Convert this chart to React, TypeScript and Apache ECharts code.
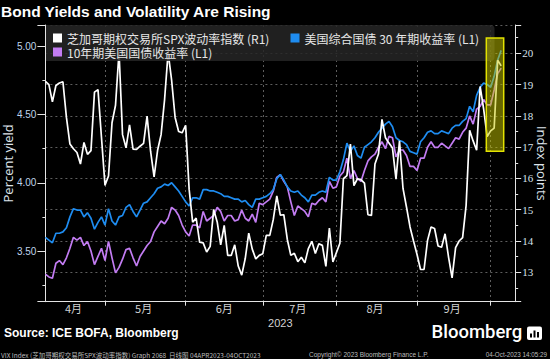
import React, { useEffect, useRef } from 'react';
import * as echarts from 'echarts';

const TITLE = 'Bond Yields and Volatility Are Rising';
const SOURCE = 'Source: ICE BOFA, Bloomberg';
const BRAND = 'Bloomberg';
const FOOT_LEFT = 'VIX Index (芝加哥期权交易所SPX波动率指数) Graph 2068  日线图 04APR2023-04OCT2023';
const FOOT_MID = 'Copyright© 2023 Bloomberg Finance L.P.';
const FOOT_RIGHT = '04-Oct-2023 14:05:29';
const X_NAME = '2023';
const LEFT_NAME = 'Percent yield';
const RIGHT_NAME = 'Index points';

// Weekday calendar (Bloomberg fills holidays), first point 5 Apr 2023, last point 4 Oct 2023
const START_DATE = '2023-04-05';
const CATEGORY_COUNT = 135; // 131 points + empty space at the right

const SERIES_NAMES = [
  '芝加哥期权交易所SPX波动率指数 (R1)',
  '美国综合国债 30 年期收益率 (L1)',
  '10年期美国国债收益率 (L1)',
];
const SERIES_COLORS = ['#ffffff', '#1e8cf0', '#c27cf2'];

// VIX, index points (right axis)
const vix = [
  19.10, 19.00, 18.45, 18.97, 19.05, 19.09, 17.95, 17.10, 16.95, 16.83,
  16.46, 17.15, 16.77, 16.89, 18.76, 18.84, 17.30, 15.78, 16.08, 17.78,
  18.34, 20.05, 17.40, 16.98, 17.71, 16.94, 16.93, 17.03, 17.12, 17.99,
  16.87, 16.05, 16.90, 17.40, 18.53, 20.03, 19.14, 17.95, 17.50, 17.46,
  17.70, 15.65, 14.60, 14.73, 13.96, 13.94, 13.65, 13.83, 15.01, 14.61,
  13.88, 14.50, 13.54, 13.54, 13.88, 13.20, 12.91, 13.44, 14.25, 13.74,
  13.43, 13.54, 13.59, 14.18, 14.18, 14.69, 15.44, 14.83, 14.84, 14.05,
  13.54, 13.61, 13.34, 13.48, 13.30, 13.76, 13.99, 13.60, 13.91, 13.86,
  13.19, 14.41, 13.33, 13.63, 13.93, 15.99, 16.09, 17.10, 15.77, 15.99,
  15.96, 15.85, 14.84, 14.82, 16.46, 16.78, 17.89, 17.30, 17.13, 16.97,
  15.98, 17.20, 15.68, 15.08, 14.45, 14.00, 13.57, 13.09, 13.09, 14.02,
  14.45, 14.40, 13.84, 13.80, 14.23, 13.48, 12.82, 13.79, 14.00, 14.11,
  15.14, 17.54, 17.20, 16.90, 18.94, 18.22, 17.34, 17.52, 17.61, 19.78, 19.60,
];

// 30-year yield, percent (left axis)
const ust30 = [
  3.60, 3.58, 3.56, 3.63, 3.63, 3.64, 3.67, 3.75, 3.81, 3.80,
  3.80, 3.75, 3.78, 3.74, 3.66, 3.71, 3.75, 3.69, 3.81, 3.72,
  3.69, 3.75, 3.76, 3.82, 3.84, 3.79, 3.75, 3.80, 3.85, 3.86,
  3.89, 3.92, 3.96, 3.97, 3.99, 3.98, 4.00, 3.97, 3.94, 3.90,
  3.86, 3.83, 3.89, 3.89, 3.88, 3.95, 3.95, 3.94, 3.94, 3.93,
  3.92, 3.90, 3.90, 3.89, 3.88, 3.88, 3.86, 3.87, 3.84, 3.82,
  3.88, 3.88, 3.89, 3.90, 3.92, 3.95, 4.03, 4.06, 4.02, 3.97,
  3.94, 3.93, 3.94, 3.91, 3.89, 3.86, 3.91, 3.91, 3.93, 3.94,
  3.93, 4.04, 4.02, 4.02, 4.08, 4.17, 4.29, 4.23, 4.27, 4.20,
  4.18, 4.26, 4.28, 4.30, 4.33, 4.37, 4.40, 4.43, 4.45, 4.41,
  4.33, 4.31, 4.30, 4.28, 4.23, 4.22, 4.21, 4.30, 4.33, 4.37,
  4.38, 4.36, 4.36, 4.38, 4.37, 4.36, 4.40, 4.42, 4.42, 4.45,
  4.47, 4.56, 4.52, 4.64, 4.70, 4.73, 4.72, 4.70, 4.78, 4.90, 4.97,
];

// 10-year yield, percent (left axis)
const ust10 = [
  3.33, 3.31, 3.30, 3.41, 3.43, 3.40, 3.45, 3.52, 3.60, 3.58,
  3.60, 3.54, 3.57, 3.50, 3.40, 3.46, 3.52, 3.43, 3.57, 3.45,
  3.34, 3.38, 3.44, 3.51, 3.52, 3.45, 3.39, 3.46, 3.50, 3.54,
  3.57, 3.64, 3.68, 3.72, 3.70, 3.74, 3.82, 3.80, 3.76, 3.69,
  3.64, 3.61, 3.69, 3.69, 3.67, 3.79, 3.72, 3.74, 3.76, 3.82,
  3.79, 3.72, 3.76, 3.76, 3.72, 3.73, 3.80, 3.74, 3.72, 3.77,
  3.71, 3.85, 3.84, 3.86, 3.88, 3.94, 4.04, 4.06, 4.01, 3.97,
  3.86, 3.76, 3.83, 3.81, 3.79, 3.75, 3.85, 3.84, 3.87, 3.89,
  3.86, 4.01, 3.96, 3.97, 4.05, 4.08, 4.18, 4.03, 4.09, 4.03,
  4.01, 4.09, 4.16, 4.19, 4.21, 4.26, 4.30, 4.25, 4.34, 4.33,
  4.19, 4.24, 4.24, 4.20, 4.12, 4.12, 4.09, 4.18, 4.18, 4.26,
  4.30, 4.26, 4.26, 4.29, 4.27, 4.25, 4.29, 4.33, 4.32, 4.37,
  4.40, 4.49, 4.43, 4.54, 4.56, 4.61, 4.57, 4.57, 4.68, 4.80, 4.84,
];

const LEFT_RANGE = [3.1285, 5.156];
const RIGHT_RANGE = [12.06, 20.905];
// highlight box: category positions (index) and right-axis values
const HIGHLIGHT = { from: 125.76, to: 130.72, top: 20.49, bottom: 16.87 };

function weekdays(start: string, n: number): string[] {
  const out: string[] = [];
  const d = new Date(start + 'T00:00:00Z');
  while (out.length < n) {
    const wd = d.getUTCDay();
    if (wd !== 0 && wd !== 6) out.push(d.toISOString().slice(0, 10));
    d.setUTCDate(d.getUTCDate() + 1);
  }
  return out;
}

const categories = weekdays(START_DATE, CATEGORY_COUNT);
const dataLen = vix.length;
const monthOf = (s: string) => parseInt(s.slice(5, 7), 10);
const monthEnds: number[] = [];
for (let i = 0; i < dataLen - 1; i++) {
  if (monthOf(categories[i]) !== monthOf(categories[i + 1])) monthEnds.push(i);
}
const monthEndSet = new Set(monthEnds);
const bounds = [0, ...monthEnds];
const labelMap = new Map<number, string>();
for (let k = 0; k < monthEnds.length; k++) {
  const idx = Math.floor((bounds[k] + bounds[k + 1]) / 2);
  labelMap.set(idx, monthOf(categories[idx]) + '月');
}

const AXIS_COLOR = '#e4e4e4';
const GRID_COLOR = '#5e5e5e';
const CJK = '"Noto Sans CJK SC", "Noto Sans", sans-serif';

function buildOption(): any {
  const legendCommon = {
    orient: 'horizontal',
    padding: 0,
    itemWidth: 9,
    itemHeight: 9,
    icon: 'rect',
    itemGap: 0,
    selectedMode: false,
    z: 5,
    textStyle: { color: '#e6e6e6', fontSize: 12, fontFamily: CJK, lineHeight: 12 },
  };
  const legendItem = (i: number) => ({
    name: SERIES_NAMES[i],
    itemStyle: { color: SERIES_COLORS[i], borderWidth: 0 },
  });
  const lineSeries = (i: number, data: number[], yAxisIndex: number) => ({
    type: 'line',
    name: SERIES_NAMES[i],
    data,
    yAxisIndex,
    showSymbol: false,
    symbol: 'none',
    silent: true,
    z: 2,
    lineStyle: { color: SERIES_COLORS[i], width: 1.7 },
    itemStyle: { color: SERIES_COLORS[i] },
  });

  return {
    animation: false,
    backgroundColor: '#000000',
    title: {
      text: TITLE,
      left: 1,
      top: 3.5,
      padding: 0,
      textStyle: {
        color: '#ffffff',
        fontSize: 15.5,
        lineHeight: 15.5,
        fontWeight: 'bold',
        fontFamily: '"Liberation Sans", Arial, sans-serif',
      },
    },
    legend: [
      { ...legendCommon, left: 53, top: 32, data: [legendItem(0)] },
      { ...legendCommon, left: 290.5, top: 32, data: [legendItem(1)] },
      { ...legendCommon, left: 53, top: 46, data: [legendItem(2)] },
    ],
    grid: { left: 45.4, top: 25, width: 469.8, height: 276.7, outerBoundsMode: 'none' },
    xAxis: {
      type: 'category',
      data: categories,
      boundaryGap: false,
      axisLine: { lineStyle: { color: AXIS_COLOR, width: 1 } },
      axisTick: {
        show: true,
        interval: (i: number) => monthEndSet.has(i),
        length: 4,
        lineStyle: { color: AXIS_COLOR },
      },
      axisLabel: {
        interval: (i: number) => labelMap.has(i),
        formatter: (_v: string, i: number) => labelMap.get(i) ?? '',
        color: '#d2d2d2',
        fontSize: 11,
        fontFamily: CJK,
        margin: 1,
      },
      splitLine: {
        show: true,
        interval: (i: number) => monthEndSet.has(i),
        lineStyle: { color: GRID_COLOR, type: [2, 3], width: 1 },
      },
      name: X_NAME,
      nameLocation: 'middle',
      nameGap: 15.5,
      nameMoveOverlap: false,
      nameTextStyle: { color: '#d2d2d2', fontSize: 11, fontFamily: '"Liberation Sans", sans-serif' },
    },
    yAxis: [
      {
        type: 'value',
        position: 'left',
        min: LEFT_RANGE[0],
        max: LEFT_RANGE[1],
        splitNumber: 5,
        axisLine: { show: true, lineStyle: { color: AXIS_COLOR, width: 1 } },
        axisTick: { show: true, length: 8, lineStyle: { color: AXIS_COLOR } },
        minorTick: { show: true, splitNumber: 2, length: 3, lineStyle: { color: AXIS_COLOR } },
        axisLabel: {
          showMinLabel: false,
          showMaxLabel: false,
          formatter: (v: number) => v.toFixed(2),
          color: '#bfd3ea',
          fontSize: 10,
          fontFamily: '"Liberation Sans", Arial, sans-serif',
          margin: 9,
        },
        splitLine: { show: false },
        minorSplitLine: { show: false },
        name: LEFT_NAME,
        nameLocation: 'middle',
        nameRotate: 90,
        nameGap: 31.4,
        nameMoveOverlap: false,
        nameTextStyle: { color: '#dde3ea', fontSize: 13, lineHeight: 13, fontFamily: '"Open Sans", sans-serif' },
      },
      {
        type: 'value',
        position: 'right',
        min: RIGHT_RANGE[0],
        max: RIGHT_RANGE[1],
        splitNumber: 8,
        axisLine: { show: true, lineStyle: { color: AXIS_COLOR, width: 1 } },
        axisTick: { show: true, length: 6, lineStyle: { color: AXIS_COLOR } },
        minorTick: { show: true, splitNumber: 2, length: 3, lineStyle: { color: AXIS_COLOR } },
        axisLabel: {
          showMinLabel: false,
          showMaxLabel: false,
          color: '#d6e0ec',
          fontSize: 11,
          fontFamily: '"Liberation Serif", serif',
          margin: 7,
        },
        splitLine: { show: true, lineStyle: { color: GRID_COLOR, type: [2, 3], width: 1 } },
        name: RIGHT_NAME,
        nameLocation: 'middle',
        nameRotate: -90,
        nameGap: 20.3,
        nameMoveOverlap: false,
        nameTextStyle: { color: '#dde3ea', fontSize: 13, lineHeight: 13, fontFamily: '"Open Sans", sans-serif' },
      },
    ],
    series: [
      lineSeries(2, ust10, 0),
      lineSeries(1, ust30, 0),
      lineSeries(0, vix, 1),
      {
        type: 'custom',
        name: 'highlight',
        xAxisIndex: 0,
        yAxisIndex: 1,
        z: 10,
        silent: true,
        data: [[0, 0]],
        renderItem: (_params: any, api: any) => {
          const base = Math.floor(HIGHLIGHT.from);
          const a = api.coord([base, HIGHLIGHT.top]);
          const b = api.coord([base + 1, HIGHLIGHT.bottom]);
          const step = b[0] - a[0];
          const x0 = a[0] + (HIGHLIGHT.from - base) * step;
          const x1 = a[0] + (HIGHLIGHT.to - base) * step;
          return {
            type: 'rect',
            shape: { x: x0, y: a[1], width: x1 - x0, height: b[1] - a[1] },
            style: { fill: 'rgba(200,200,0,0.5)', stroke: '#e2e200', lineWidth: 1.5 },
          };
        },
      },
    ],
    graphic: [
      {
        type: 'rect',
        z: 3,
        silent: true,
        shape: { x: 46, y: 25, width: 448.5, height: 36, r: [0, 4, 4, 0] },
        style: { fill: 'rgba(38,38,38,0.85)' },
      },
      {
        type: 'text',
        x: 4,
        y: 333.4,
        style: {
          text: SOURCE,
          fill: '#ffffff',
          fontSize: 12,
          fontWeight: 'bold',
          fontFamily: '"Liberation Sans", Arial, sans-serif',
          verticalAlign: 'middle',
        },
      },
      {
        type: 'text',
        x: 431.5,
        y: 332,
        style: {
          text: BRAND,
          fill: '#ffffff',
          fontSize: 18.5,
          fontWeight: 500,
          fontFamily: 'Roboto, "Liberation Sans", sans-serif',
          verticalAlign: 'middle',
        },
      },
      {
        type: 'rect',
        shape: { x: 527, y: 326.5, width: 15, height: 13.5, r: 2 },
        style: { fill: '#ffffff' },
      },
      { type: 'rect', shape: { x: 530, y: 333.5, width: 2, height: 4 }, style: { fill: '#000' } },
      { type: 'rect', shape: { x: 533.5, y: 330.5, width: 2, height: 7 }, style: { fill: '#000' } },
      { type: 'rect', shape: { x: 537, y: 332, width: 2, height: 5.5 }, style: { fill: '#000' } },
      {
        type: 'text',
        x: 1,
        y: 354.8,
        style: { text: FOOT_LEFT, fill: '#bdbdbd', fontSize: 6.5, fontFamily: CJK, verticalAlign: 'middle' },
      },
      {
        type: 'text',
        x: 309,
        y: 354.8,
        style: { text: FOOT_MID, fill: '#bdbdbd', fontSize: 6.5, fontFamily: '"Liberation Sans", sans-serif', verticalAlign: 'middle' },
      },
      {
        type: 'text',
        x: 547,
        y: 354.8,
        style: { text: FOOT_RIGHT, fill: '#bdbdbd', fontSize: 6.3, fontFamily: '"Liberation Sans", sans-serif', align: 'right', verticalAlign: 'middle' },
      },
    ],
  };
}

export default function App() {
  const ref = useRef<HTMLDivElement>(null);
  useEffect(() => {
    document.body.style.margin = '0';
    document.body.style.background = '#000';
    const chart = echarts.init(ref.current as HTMLDivElement, null, { renderer: 'svg', width: 550, height: 359 });
    chart.setOption(buildOption());
    return () => chart.dispose();
  }, []);
  return <div ref={ref} style={{ position: 'absolute', left: 0, top: 0, width: 550, height: 359 }} />;
}
